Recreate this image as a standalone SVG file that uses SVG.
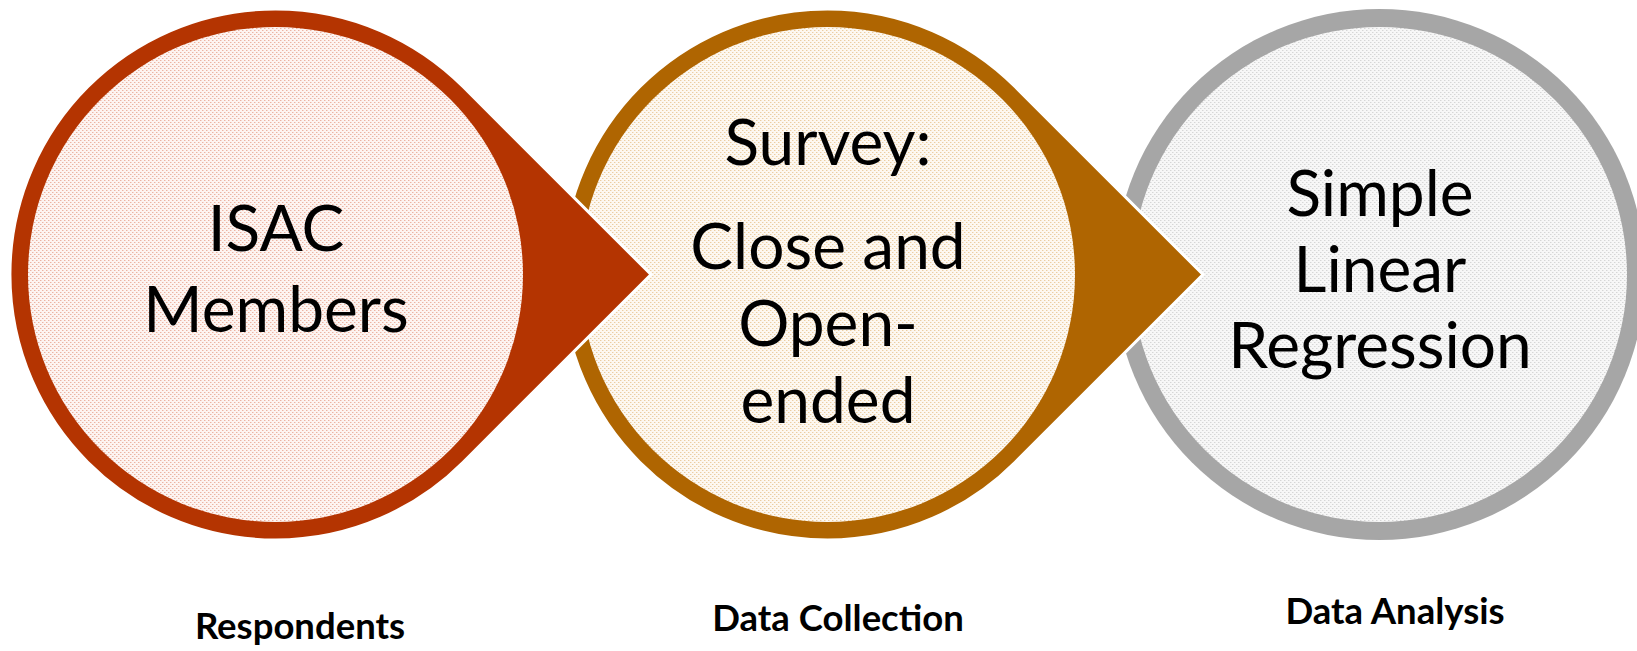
<svg xmlns="http://www.w3.org/2000/svg" width="1637" height="651" viewBox="0 0 1637 651">
  <style>
    .main { font-family: Lato, "Open Sans", sans-serif; font-size: 64px; fill: #000000; text-anchor: middle; }
    .label { font-family: Lato, "Open Sans", sans-serif; font-size: 36.5px; font-weight: bold; fill: #000000; text-anchor: middle; }
    .outline { stroke: #FFFFFF; stroke-width: 3; stroke-linejoin: miter; }
  </style>
  <defs>
    <pattern id="pRed" width="4" height="4" patternUnits="userSpaceOnUse">
      <rect width="4" height="4" fill="#FDF4F1"/>
      <rect x="0" y="0" width="1" height="1" fill="#EBB3A2"/>
      <rect x="2" y="2" width="1" height="1" fill="#EBB3A2"/>
      <rect x="1" y="0" width="1" height="1" fill="#F6D6CC"/>
      <rect x="3" y="2" width="1" height="1" fill="#F6D6CC"/>
    </pattern>
    <pattern id="pOrange" width="4" height="4" patternUnits="userSpaceOnUse">
      <rect width="4" height="4" fill="#FDF8F1"/>
      <rect x="0" y="0" width="1" height="1" fill="#EBCDA2"/>
      <rect x="2" y="2" width="1" height="1" fill="#EBCDA2"/>
      <rect x="1" y="0" width="1" height="1" fill="#F6E6CE"/>
      <rect x="3" y="2" width="1" height="1" fill="#F6E6CE"/>
    </pattern>
    <pattern id="pGray" width="4" height="4" patternUnits="userSpaceOnUse">
      <rect width="4" height="4" fill="#F7F7F7"/>
      <rect x="0" y="0" width="1" height="1" fill="#D6D6D6"/>
      <rect x="2" y="2" width="1" height="1" fill="#D6D6D6"/>
      <rect x="1" y="0" width="1" height="1" fill="#E8E8E8"/>
      <rect x="3" y="2" width="1" height="1" fill="#E8E8E8"/>
    </pattern>
  </defs>

  <g id="connectors"></g>

  <g id="node-analysis">
    <circle cx="1379.5" cy="274.5" r="265.5" fill="#A6A6A6"/>
    <circle cx="1379.5" cy="274.5" r="247.5" fill="url(#pGray)"/>
    <text class="main" x="1380" y="216">Simple</text>
    <text class="main" x="1380" y="292">Linear</text>
    <text class="main" x="1380" y="368">Regression</text>
  </g>

  <g id="node-collection">
    <path class="outline" fill="#AF6501" d="M 1203 274.5 L 1015.2 86.8 A 265.5 265.5 0 1 0 1015.2 462.2 Z"/>
    <circle cx="827.5" cy="274.5" r="247.5" fill="url(#pOrange)"/>
    <text class="main" x="828" y="165">Survey:</text>
    <text class="main" x="828" y="269">Close and</text>
    <text class="main" x="828" y="346">Open-</text>
    <text class="main" x="828" y="423">ended</text>
  </g>

  <g id="node-respondents">
    <path class="outline" fill="#B43401" d="M 651 274.5 L 463.2 86.8 A 265.5 265.5 0 1 0 463.2 462.2 Z"/>
    <circle cx="275.5" cy="274.5" r="247.5" fill="url(#pRed)"/>
    <text class="main" x="276" y="251">ISAC</text>
    <text class="main" x="276" y="332">Members</text>
  </g>

  <g id="labels">
    <text class="label" x="300" y="639">Respondents</text>
    <text class="label" x="838" y="631">Data Collection</text>
    <text class="label" x="1395" y="624">Data Analysis</text>
  </g>
</svg>
